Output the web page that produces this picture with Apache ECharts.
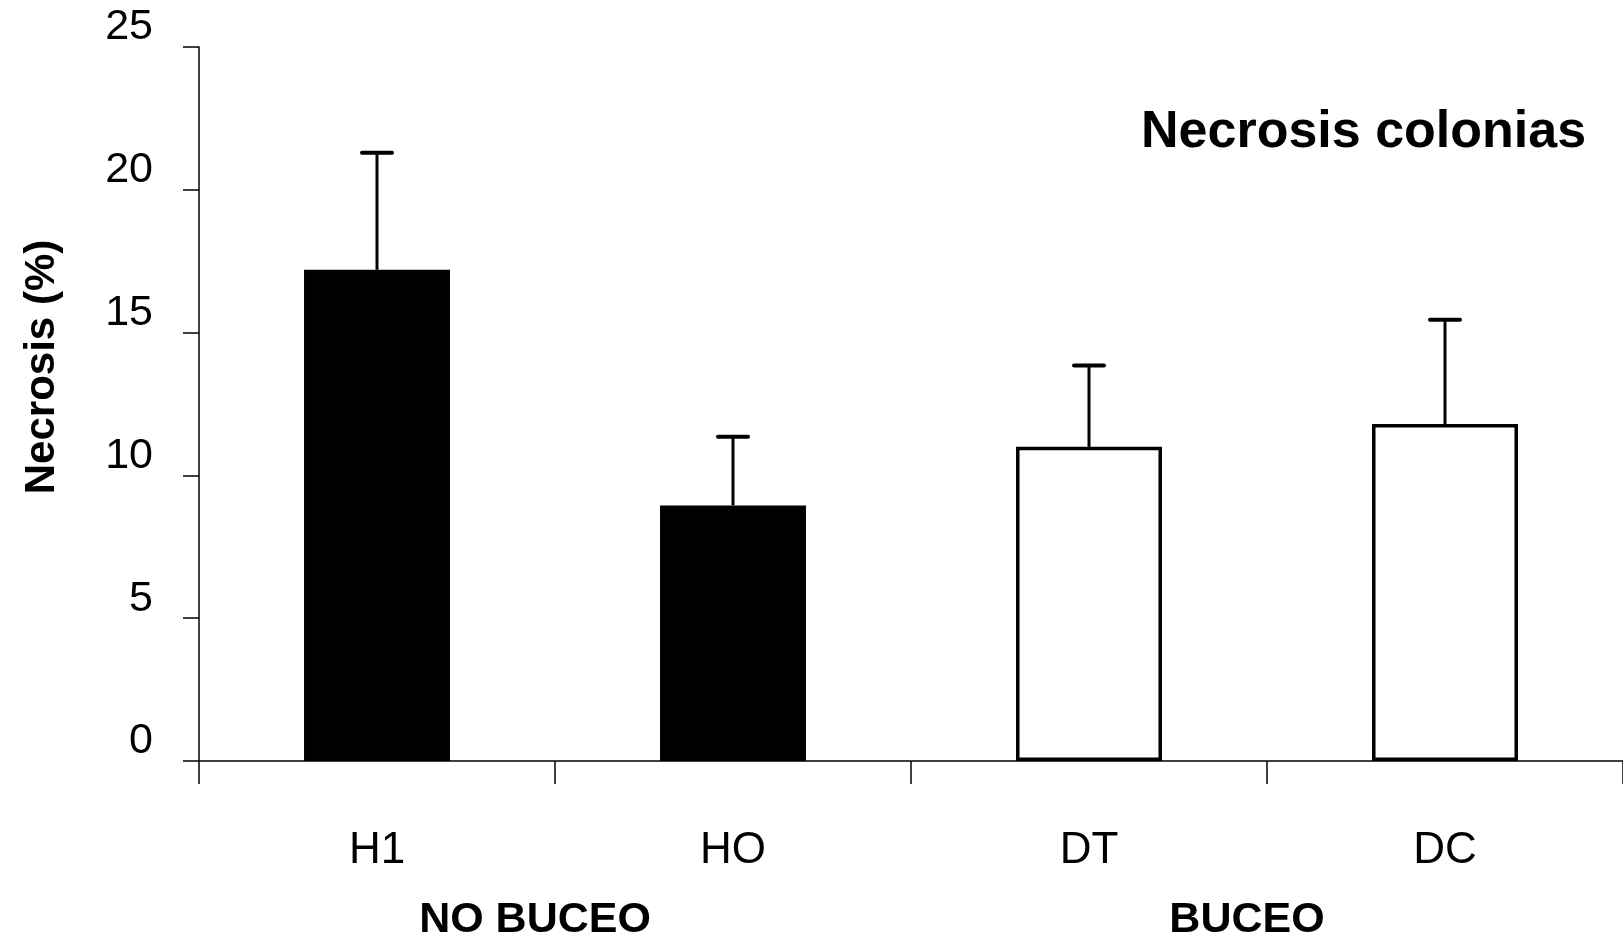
<!DOCTYPE html>
<html>
<head>
<meta charset="utf-8">
<script src="https://cdn.jsdelivr.net/npm/echarts@6/dist/echarts.min.js"></script>
<style>
  html, body { margin: 0; padding: 0; background: #ffffff; }
  #chart { width: 1623px; height: 938px; }
</style>
</head>
<body>
<div id="chart"></div>
<script>
// Colony necrosis per site (mean with upper error bar)
const categories = ['H1', 'HO', 'DT', 'DC'];
const necrosisMean = [17.2, 8.95, 11.0, 11.8];
const necrosisError = [4.1, 2.4, 2.85, 3.65];
const groupNames = ['NO BUCEO', 'BUCEO'];
const groupOfCategory = [0, 0, 1, 1];
const chartTitle = 'Necrosis colonias';
const yAxisTitle = 'Necrosis (%)';

const FONT = '"Liberation Sans", Arial, Helvetica, sans-serif';

const chart = echarts.init(document.getElementById('chart'), null, { renderer: 'canvas' });

// filled bars for the first group, open bars for the second
const barData = necrosisMean.map((v, i) => ({
  value: v,
  itemStyle: groupOfCategory[i] === 0
    ? { color: '#000000', borderColor: '#000000', borderWidth: 0 }
    : { color: '#ffffff', borderColor: '#000000', borderWidth: 3.5 }
}));

const errorData = necrosisMean.map((v, i) => [i, v, v + necrosisError[i]]);

function renderErrorBar(params, api) {
  const x = api.value(0);
  const base = api.coord([x, api.value(1)]);
  const top = api.coord([x, api.value(2)]);
  const half = 15;
  return {
    type: 'group',
    children: [
      { type: 'line', shape: { x1: base[0], y1: base[1], x2: top[0], y2: top[1] },
        style: { stroke: '#000', lineWidth: 3 } },
      { type: 'line', shape: { x1: top[0] - half, y1: top[1], x2: top[0] + half, y2: top[1] },
        style: { stroke: '#000', lineWidth: 4, lineCap: 'round' } }
    ]
  };
}

const option = {
  backgroundColor: '#ffffff',
  animation: false,
  grid: { left: 199, right: -3, top: 47, bottom: 177, containLabel: false },
  xAxis: {
    type: 'category',
    data: categories,
    boundaryGap: true,
    axisLine: { show: true, lineStyle: { color: '#000', width: 1.5 } },
    axisTick: { show: true, length: 23, alignWithLabel: false, lineStyle: { color: '#000', width: 1.5 } },
    axisLabel: { color: '#000', fontSize: 44, fontFamily: FONT, margin: 68 },
    splitLine: { show: false }
  },
  yAxis: {
    type: 'value',
    min: 0,
    max: 25,
    interval: 5,
    axisLine: { show: true, lineStyle: { color: '#000', width: 1.5 } },
    axisTick: { show: true, length: 16, lineStyle: { color: '#000', width: 1.5 } },
    axisLabel: { color: '#000', fontSize: 43, fontFamily: FONT, margin: 46, verticalAlign: 'bottom', padding: [0, 0, -2, 0] },
    splitLine: { show: false }
  },
  series: [
    {
      type: 'bar',
      data: barData,
      barWidth: '41%',
      z: 2
    },
    {
      type: 'custom',
      data: errorData,
      renderItem: renderErrorBar,
      encode: { x: 0, y: [1, 2] },
      z: 3
    }
  ],
  graphic: [
    {
      type: 'text', left: 1141, top: 107,
      style: { text: chartTitle, fill: '#000', font: 'bold 52px ' + FONT }
    },
    {
      type: 'text', x: 42, y: 367, rotation: Math.PI / 2,
      style: { text: yAxisTitle, fill: '#000', font: 'bold 42px ' + FONT, align: 'center', verticalAlign: 'middle' }
    }
  ]
};

chart.setOption(option);

// group labels under the category names, centred on each group's categories
const groupGraphics = groupNames.map((name, g) => {
  const idx = groupOfCategory.map((gg, i) => (gg === g ? i : -1)).filter(i => i >= 0);
  const xs = idx.map(i => chart.convertToPixel({ xAxisIndex: 0 }, categories[i]));
  const cx = xs.reduce((a, b) => a + b, 0) / xs.length - 20;
  return {
    type: 'text', x: cx, y: 920,
    style: { text: name, fill: '#000', font: 'bold 43px ' + FONT, align: 'center', verticalAlign: 'middle' }
  };
});
chart.setOption({ graphic: option.graphic.concat(groupGraphics) });
</script>
</body>
</html>
